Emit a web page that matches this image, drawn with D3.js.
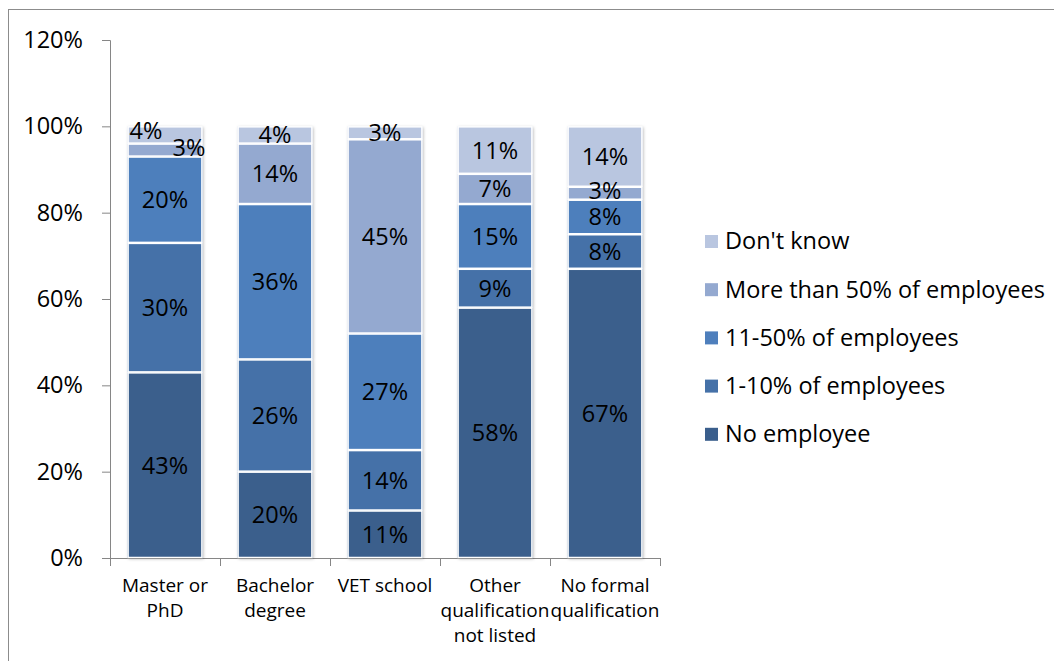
<!DOCTYPE html>
<html>
<head>
<meta charset="utf-8">
<script src="https://cdn.jsdelivr.net/npm/d3@7"></script>
<style>
  html, body { margin: 0; padding: 0; background: #fff; }
  svg { display: block; }
  text { font-family: "Open Sans", sans-serif; fill: #000; }
</style>
</head>
<body>
<svg id="chart" width="1054" height="661"></svg>
<script>
const categories = [["Master or", "PhD"], ["Bachelor", "degree"], ["VET school"], ["Other", "qualification", "not listed"], ["No formal", "qualification"]];
const seriesNames = ["No employee", "1-10% of employees", "11-50% of employees", "More than 50% of employees", "Don't know"];
const noEmployee   = [43, 20, 11, 58, 67];
const oneToTen     = [30, 26, 14, 9, 8];
const elevenToFifty= [20, 36, 27, 15, 8];
const moreThanHalf = [3, 14, 45, 7, 3];
const dontKnow     = [4, 4, 3, 11, 14];
const yTicks = [0, 20, 40, 60, 80, 100, 120];
const colors = ["#3A5E8C", "#4571A8", "#4E7FBC", "#94A9D0", "#B9C6E0"];

const seriesValues = [noEmployee, oneToTen, elevenToFifty, moreThanHalf, dontKnow];
const rows = categories.map((c, i) => {
  const r = { key: i };
  seriesNames.forEach((s, j) => r[s] = seriesValues[j][i]);
  return r;
});

const svg = d3.select("#chart");
const FS = 23.5;

// outer frame
svg.append("rect").attr("x", 8.5).attr("y", 9.5).attr("width", 1100).attr("height", 700)
  .attr("fill", "none").attr("stroke", "#8C8C8C").attr("stroke-width", 1);

const defs = svg.append("defs");
const f = defs.append("filter").attr("id", "shadow").attr("x", "-20%").attr("y", "-20%").attr("width", "140%").attr("height", "140%");
f.append("feDropShadow").attr("dx", 1).attr("dy", 1).attr("stdDeviation", 1.6)
  .attr("flood-color", "#000").attr("flood-opacity", 0.28);

const x = d3.scaleBand().domain(d3.range(categories.length)).range([110, 660]).paddingInner(0.32).paddingOuter(0.16);
const y = d3.scaleLinear().domain([0, 120]).range([558, 40]);

const stack = d3.stack().keys(seriesNames)(rows);

// axes
const yAxis = svg.append("g").attr("transform", "translate(110,0)")
  .call(d3.axisLeft(y).tickValues(yTicks).tickFormat(d => d + "%").tickSizeOuter(0).tickSize(8).tickPadding(19));
yAxis.select(".domain").attr("stroke", "#868686");
yAxis.selectAll(".tick line").attr("stroke", "#868686");
yAxis.selectAll(".tick text").attr("font-size", FS).attr("font-family", "Open Sans").attr("fill", "#000");

const bandX = d3.scaleLinear().domain([0, categories.length]).range([110, 660]);
const xAxis = svg.append("g").attr("transform", "translate(0,558)")
  .call(d3.axisBottom(bandX).tickValues(d3.range(categories.length + 1)).tickFormat("").tickSize(8).tickSizeOuter(0));
xAxis.select(".domain").attr("stroke", "#868686");
xAxis.selectAll(".tick line").attr("stroke", "#868686");

// bars
const layers = svg.append("g").attr("filter", "url(#shadow)");
stack.forEach((layer, j) => {
  layers.append("g").selectAll("rect").data(layer).join("rect")
    .attr("x", (d, i) => x(i))
    .attr("width", x.bandwidth())
    .attr("y", d => y(d[1]))
    .attr("height", d => y(d[0]) - y(d[1]))
    .attr("fill", colors[j]);
});
// white separators
const seps = svg.append("g");
stack.forEach((layer, j) => {
  seps.append("g").selectAll("rect").data(layer).join("rect")
    .attr("x", (d, i) => x(i) + 0.5)
    .attr("width", x.bandwidth() - 1)
    .attr("y", d => y(d[1]) + 0.5)
    .attr("height", d => Math.max(0, y(d[0]) - y(d[1]) - 1))
    .attr("fill", "none").attr("stroke", "#fff").attr("stroke-width", 1.5);
});

// labels (manual nudges for overlapping small labels, as in the source)
const nudges = { "0-4": [-19, -4], "0-3": [24, -3], "4-3": [0, -3] };
const labels = svg.append("g");
stack.forEach((layer, j) => {
  layer.forEach((d, i) => {
    const n = nudges[i + "-" + j] || [0, 0];
    labels.append("text")
      .attr("x", x(i) + x.bandwidth() / 2 + n[0])
      .attr("y", (y(d[0]) + y(d[1])) / 2 + n[1])
      .attr("text-anchor", "middle").attr("dy", "0.36em")
      .attr("font-size", FS)
      .text((d[1] - d[0]) + "%");
  });
});

// category labels
const catG = svg.append("g");
categories.forEach((lines, i) => {
  const t = catG.append("text").attr("text-anchor", "middle").attr("font-size", 19);
  lines.forEach((ln, k) => {
    t.append("tspan").attr("x", x(i) + x.bandwidth() / 2).attr("y", 592 + k * 25).text(ln);
  });
});

// legend
const legendOrder = seriesNames.map((s, j) => j).reverse();
const lg = svg.append("g");
legendOrder.forEach((j, k) => {
  const cy = 241 + k * 48.2;
  lg.append("rect").attr("x", 705).attr("y", cy - 6).attr("width", 13).attr("height", 13).attr("fill", colors[j]);
  lg.append("text").attr("x", 725).attr("y", cy).attr("dy", "0.36em").attr("font-size", FS).text(seriesNames[j]);
});
</script>
</body>
</html>
